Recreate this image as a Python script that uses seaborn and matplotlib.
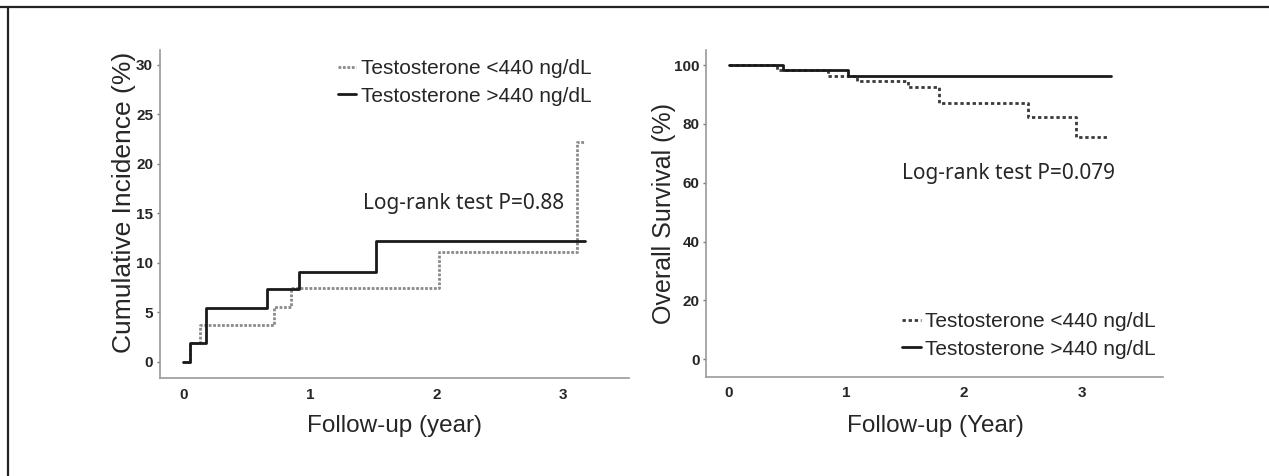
import matplotlib
matplotlib.use('Agg')
import matplotlib.pyplot as plt
import seaborn as sns
import pandas as pd
from matplotlib.lines import Line2D

# step curves
ci_low_years = [0, 0.05, 0.13, 0.72, 0.85, 2.02, 3.11, 3.17]
ci_low_pct = [0, 1.85, 3.7, 5.56, 7.41, 11.1, 22.2, 22.2]
ci_high_years = [0, 0.05, 0.18, 0.66, 0.91, 1.52, 3.17]
ci_high_pct = [0, 1.85, 5.45, 7.3, 9.1, 12.2, 12.2]

os_low_years = [0, 0.41, 0.84, 1.09, 1.52, 1.79, 2.54, 2.95, 3.23]
os_low_pct = [100, 98.2, 96.4, 94.6, 92.6, 87.1, 82.3, 75.4, 75.4]
os_high_years = [0, 0.46, 1.01, 3.25]
os_high_pct = [100, 98.2, 96.4, 96.4]

label_low = 'Testosterone <440 ng/dL'
label_high = 'Testosterone >440 ng/dL'
p_left = 'Log-rank test P=0.88'
p_right = 'Log-rank test P=0.079'

sns.set_style('white')
plt.rcParams['font.family'] = ['Liberation Sans', 'DejaVu Sans']

fig = plt.figure(figsize=(12.69, 4.76), dpi=100)
ax1 = fig.add_axes([0.1261, 0.2053, 0.3693, 0.6897])
ax2 = fig.add_axes([0.5567, 0.2086, 0.3600, 0.6863])

# frame lines at top and left of the figure
fig.add_artist(Line2D([0, 1], [1 - 6.5 / 476] * 2, transform=fig.transFigure, color='#222222', lw=1.6))
fig.add_artist(Line2D([7.5 / 1269] * 2, [0, 1 - 6.5 / 476], transform=fig.transFigure, color='#222222', lw=1.6))


def style_axes(ax):
    for s in ['top', 'right']:
        ax.spines[s].set_visible(False)
    for s in ['left', 'bottom']:
        ax.spines[s].set_color('#9a9a9a')
        ax.spines[s].set_linewidth(1.2)
    ax.tick_params(axis='y', direction='out', length=2, width=1, color='#777777', pad=3,
                   labelsize=11, left=True)
    ax.tick_params(axis='x', length=0, pad=7, labelsize=11)
    for t in ax.get_xticklabels() + ax.get_yticklabels():
        t.set_fontweight('bold')


# left panel: cumulative incidence
df_low = pd.DataFrame({'year': ci_low_years, 'pct': ci_low_pct})
df_high = pd.DataFrame({'year': ci_high_years, 'pct': ci_high_pct})
sns.lineplot(data=df_low, x='year', y='pct', ax=ax1, drawstyle='steps-post', color='#8a8a8a',
             linestyle=(0, (1, 0.6)), lw=2, label=label_low, estimator=None)
sns.lineplot(data=df_high, x='year', y='pct', ax=ax1, drawstyle='steps-post', color='#1a1a1a',
             lw=2, label=label_high, estimator=None)
ax1.set_xlim(-0.183, 3.515)
ax1.set_ylim(-1.68, 31.5)
ax1.set_xticks([0, 1, 2, 3])
ax1.set_yticks([0, 5, 10, 15, 20, 25, 30])
style_axes(ax1)
ax1.set_xlabel('Follow-up (year)', fontsize=17.5, va='top')
ax1.set_ylabel('Cumulative Incidence (%)', fontsize=19)
ax1.xaxis.set_label_coords(0.5, -0.113)
ax1.yaxis.set_label_coords(-0.052, 0.535)
ax1.text(1.415, 16.0, p_left, fontsize=15, ha='left', va='center', family=['Noto Sans', 'DejaVu Sans'])
ax1.legend(loc='upper left', bbox_to_anchor=(0.379, 0.973), frameon=False, fontsize=15,
           handlelength=0.9, handletextpad=0.2, labelspacing=0.42, borderpad=0, borderaxespad=0)

# right panel: overall survival
df_low2 = pd.DataFrame({'year': os_low_years, 'pct': os_low_pct})
df_high2 = pd.DataFrame({'year': os_high_years, 'pct': os_high_pct})
sns.lineplot(data=df_low2, x='year', y='pct', ax=ax2, drawstyle='steps-post', color='#3a3a3a',
             linestyle=(0, (1.2, 1)), lw=2, label=label_low, estimator=None)
sns.lineplot(data=df_high2, x='year', y='pct', ax=ax2, drawstyle='steps-post', color='#1a1a1a',
             lw=2, label=label_high, estimator=None)
ax2.set_xlim(-0.188, 3.69)
ax2.set_ylim(-5.9, 105.1)
ax2.set_xticks([0, 1, 2, 3])
ax2.set_yticks([0, 20, 40, 60, 80, 100])
style_axes(ax2)
ax2.set_xlabel('Follow-up (Year)', fontsize=17.5, va='top')
ax2.set_ylabel('Overall Survival (%)', fontsize=18)
ax2.xaxis.set_label_coords(0.502, -0.117)
ax2.yaxis.set_label_coords(-0.067, 0.50)
ax2.text(1.47, 63.0, p_right, fontsize=15, ha='left', va='center', family=['Noto Sans', 'DejaVu Sans'])
ax2.legend(loc='upper left', bbox_to_anchor=(0.428, 0.198), frameon=False, fontsize=15,
           handlelength=0.9, handletextpad=0.2, labelspacing=0.42, borderpad=0, borderaxespad=0)

plt.savefig('out.png', dpi=100)
